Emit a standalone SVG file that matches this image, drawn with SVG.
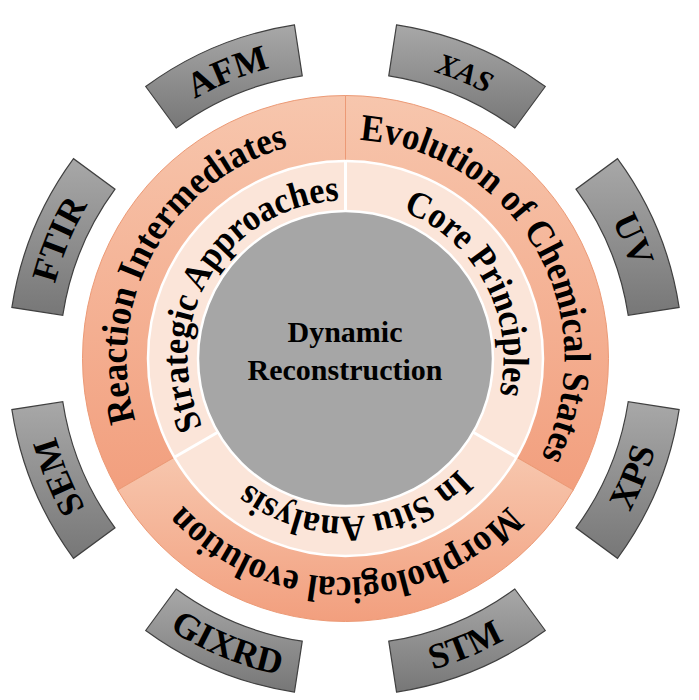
<svg xmlns="http://www.w3.org/2000/svg" xmlns:xlink="http://www.w3.org/1999/xlink" width="699" height="700" viewBox="0 0 699 700">
<style>
.box{stroke:#404040;stroke-width:1.2;fill:url(#gGray)}
.seg{stroke:#EC9A76;stroke-width:1;fill:url(#gOrange)}
.t{font-family:"Liberation Serif","Times New Roman",serif;font-weight:bold;fill:#000}
.ring{font-size:38px}
.inner{font-size:37px}
.btx{font-size:36px}
</style>
<defs>
<linearGradient id="gGray" x1="0" y1="0" x2="0" y2="1"><stop offset="0" stop-color="#A8A8A8"/><stop offset="1" stop-color="#777777"/></linearGradient>
<linearGradient id="gOrange" x1="0" y1="0" x2="0" y2="1"><stop offset="0" stop-color="#F7C6AD"/><stop offset="1" stop-color="#F29F7E"/></linearGradient>
<path id="cw219" d="M345.5 139.5A219 219 0 1 1 345.5 577.5A219 219 0 1 1 345.5 139.5A219 219 0 1 1 345.5 577.5A219 219 0 1 1 345.5 139.5"/>
<path id="cw158" d="M345.5 200.5A158 158 0 1 1 345.5 516.5A158 158 0 1 1 345.5 200.5A158 158 0 1 1 345.5 516.5A158 158 0 1 1 345.5 200.5"/>
<path id="cw300" d="M345.5 58.5A300 300 0 1 1 345.5 658.5A300 300 0 1 1 345.5 58.5A300 300 0 1 1 345.5 658.5A300 300 0 1 1 345.5 58.5"/>
<path id="ccw323" d="M345.5 35.5A323 323 0 1 0 345.5 681.5A323 323 0 1 0 345.5 35.5A323 323 0 1 0 345.5 681.5A323 323 0 1 0 345.5 35.5"/>
</defs>

<g id="outer-ring">
<g id="seg-reaction"><path class="seg" d="M117.73 490A263 263 0 0 1 345.5 95.5L345.5 161A197.5 197.5 0 0 0 174.46 457.25Z"/>
<text class="t ring"><textPath xlink:href="#cw219" startOffset="1142.9" text-anchor="middle" textLength="349" lengthAdjust="spacingAndGlyphs">Reaction Intermediates</textPath></text></g>
<g id="seg-evolution"><path class="seg" d="M345.5 95.5A263 263 0 0 1 573.27 490L516.54 457.25A197.5 197.5 0 0 0 345.5 161Z"/>
<text class="t ring"><textPath xlink:href="#cw219" startOffset="1605.4" text-anchor="middle" textLength="432" lengthAdjust="spacingAndGlyphs">Evolution of Chemical States</textPath></text></g>
<g id="seg-morph"><path class="seg" d="M573.27 490A263 263 0 0 1 117.73 490L174.46 457.25A197.5 197.5 0 0 0 516.54 457.25Z"/>
<text class="t ring"><textPath xlink:href="#cw219" startOffset="688" text-anchor="middle" textLength="366" lengthAdjust="spacingAndGlyphs">Morphological evolution</textPath></text></g>
</g>

<g id="inner-ring">
<circle cx="345.5" cy="358.5" r="197.5" fill="#FBE5D9" stroke="#FFFFFF" stroke-width="2.5"/>
<g stroke="#FFFFFF" stroke-width="3">
<line x1="345.5" y1="161" x2="345.5" y2="211"/>
<line x1="516.54" y1="457.25" x2="473.24" y2="432.25"/>
<line x1="174.46" y1="457.25" x2="217.76" y2="432.25"/>
</g>
<g id="seg-strategic"><text class="t inner"><textPath xlink:href="#cw158" startOffset="830" text-anchor="middle" textLength="312" lengthAdjust="spacingAndGlyphs">Strategic Approaches</textPath></text></g>
<g id="seg-core"><text class="t inner"><textPath xlink:href="#cw158" startOffset="1163.7" text-anchor="middle" textLength="226" lengthAdjust="spacingAndGlyphs">Core Principles</textPath></text></g>
<g id="seg-insitu"><text class="t inner"><textPath xlink:href="#cw158" startOffset="485.3" text-anchor="middle" textLength="230" lengthAdjust="spacingAndGlyphs">In Situ Analysis</textPath></text></g>
</g>

<g id="center">
<circle cx="345.5" cy="358.5" r="147.5" fill="#A6A6A6" stroke="#FFFFFF" stroke-width="2.5"/>
<text class="t" font-size="30" text-anchor="middle"><tspan x="345" y="342">Dynamic</tspan><tspan x="345" y="380">Reconstruction</tspan></text>
</g>

<g id="box-xas"><path class="box" d="M396.55 24.88A337.5 337.5 0 0 1 545.3 86.5L514.81 128A286 286 0 0 0 388.76 75.79Z"/>
<text class="t" font-size="30" font-style="italic"><textPath xlink:href="#cw300" startOffset="2002.8" text-anchor="middle">XAS</textPath></text></g>
<g id="box-uv"><path class="box" d="M617.5 158.7A337.5 337.5 0 0 1 679.12 307.45L628.21 315.24A286 286 0 0 0 576 189.19Z"/>
<text class="t btx"><textPath xlink:href="#cw300" startOffset="353.4" text-anchor="middle">UV</textPath></text></g>
<g id="box-xps"><path class="box" d="M679.12 409.55A337.5 337.5 0 0 1 617.5 558.3L576 527.81A286 286 0 0 0 628.21 401.76Z"/>
<text class="t btx"><textPath xlink:href="#ccw323" startOffset="1395.3" text-anchor="middle">XPS</textPath></text></g>
<g id="box-stm"><path class="box" d="M545.3 630.5A337.5 337.5 0 0 1 396.55 692.12L388.76 641.21A286 286 0 0 0 514.81 589Z"/>
<text class="t btx"><textPath xlink:href="#ccw323" startOffset="1141.6" text-anchor="middle">STM</textPath></text></g>
<g id="box-gixrd"><path class="box" d="M294.45 692.12A337.5 337.5 0 0 1 145.7 630.5L176.19 589A286 286 0 0 0 302.24 641.21Z"/>
<text class="t btx"><textPath xlink:href="#ccw323" startOffset="887.9" text-anchor="middle">GIXRD</textPath></text></g>
<g id="box-sem"><path class="box" d="M73.5 558.3A337.5 337.5 0 0 1 11.88 409.55L62.79 401.76A286 286 0 0 0 115 527.81Z"/>
<text class="t btx"><textPath xlink:href="#cw300" startOffset="1295.9" text-anchor="middle">SEM</textPath></text></g>
<g id="box-ftir"><path class="box" d="M11.88 307.45A337.5 337.5 0 0 1 73.5 158.7L115 189.19A286 286 0 0 0 62.79 315.24Z"/>
<text class="t btx"><textPath xlink:href="#cw300" startOffset="1531.5" text-anchor="middle">FTIR</textPath></text></g>
<g id="box-afm"><path class="box" d="M145.7 86.5A337.5 337.5 0 0 1 294.45 24.88L302.24 75.79A286 286 0 0 0 176.19 128Z"/>
<text class="t btx"><textPath xlink:href="#cw300" startOffset="1767.1" text-anchor="middle">AFM</textPath></text></g>
<g id="connectors"/>
</svg>
